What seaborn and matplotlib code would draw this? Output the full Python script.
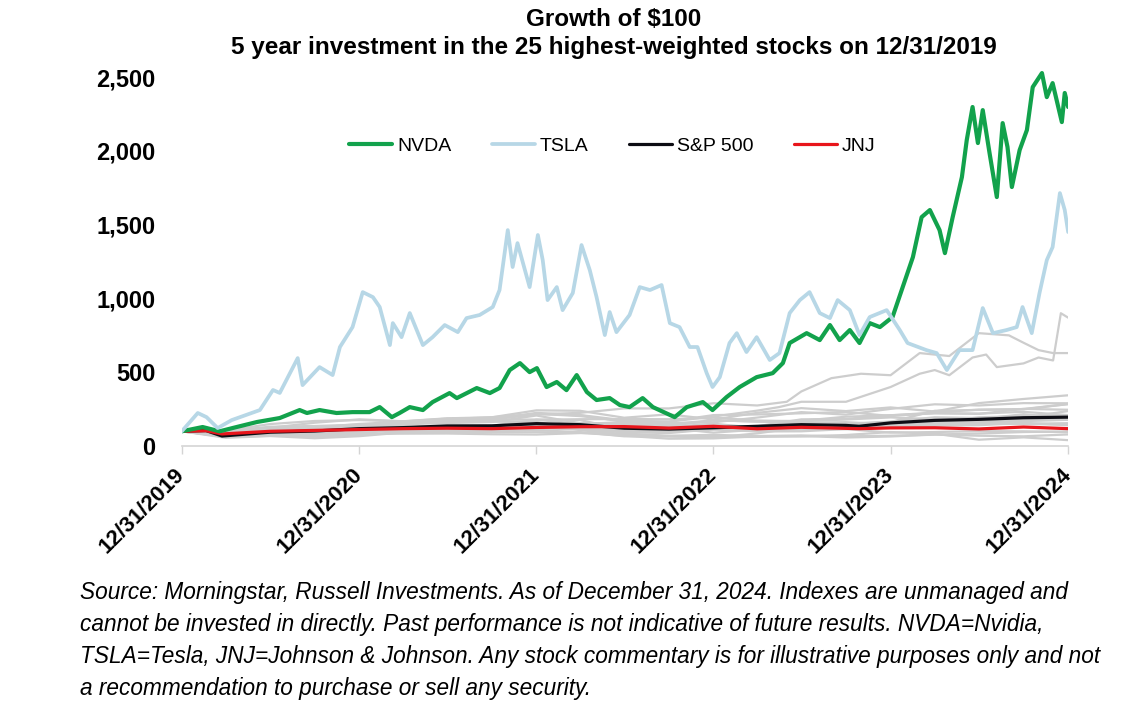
import pandas as pd
import matplotlib.pyplot as plt
from matplotlib.lines import Line2D
import seaborn as sns

# growth of $100
nvda_dates = ["2019-12-31", "2020-02-12", "2020-03-18", "2020-04-22", "2020-06-03", "2020-07-20",
              "2020-08-30", "2020-09-14", "2020-10-10", "2020-11-14", "2020-12-17", "2021-01-21",
              "2021-02-11", "2021-03-08", "2021-03-24", "2021-04-14", "2021-05-11", "2021-05-31",
              "2021-07-05", "2021-07-20", "2021-08-30", "2021-09-26", "2021-10-16", "2021-11-06",
              "2021-11-27", "2021-12-17", "2022-01-01", "2022-01-21", "2022-02-11", "2022-03-03",
              "2022-03-24", "2022-04-14", "2022-05-04", "2022-05-31", "2022-06-21", "2022-07-11",
              "2022-08-07", "2022-08-28", "2022-10-12", "2022-11-06", "2022-12-09", "2022-12-29",
              "2023-01-27", "2023-02-23", "2023-03-30", "2023-05-02", "2023-05-23", "2023-06-06",
              "2023-07-11", "2023-08-07", "2023-08-28", "2023-09-17", "2023-10-08", "2023-10-28",
              "2023-11-18", "2023-12-09", "2024-01-04", "2024-01-25", "2024-02-15", "2024-03-04",
              "2024-03-21", "2024-04-10", "2024-04-21", "2024-05-07", "2024-05-26", "2024-06-05",
              "2024-06-17", "2024-06-28", "2024-07-08", "2024-07-22", "2024-08-06", "2024-08-18",
              "2024-08-28", "2024-09-06", "2024-09-22", "2024-10-07", "2024-10-19", "2024-11-07",
              "2024-11-17", "2024-11-29", "2024-12-18", "2024-12-24", "2024-12-31"]
nvda_values = [100, 129, 100, 129, 163, 190,
               244, 224, 244, 224, 230, 230,
               264, 196, 224, 264, 244, 298,
               359, 325, 393, 359, 393, 515,
               562, 501, 528, 400, 434, 379,
               481, 366, 312, 325, 278, 264,
               325, 264, 196, 264, 298, 244,
               332, 400, 467, 494, 562, 698,
               765, 718, 820, 718, 786, 698,
               833, 806, 874, 1077, 1280, 1551,
               1599, 1463, 1307, 1551, 1822, 2073,
               2297, 2053, 2276, 1985, 1687, 2188,
               2026, 1755, 2005, 2141, 2432, 2527,
               2364, 2459, 2195, 2392, 2297]

tsla_dates = ["2019-12-31", "2020-02-02", "2020-02-20", "2020-03-14", "2020-04-12", "2020-06-09",
              "2020-07-06", "2020-07-20", "2020-08-26", "2020-09-05", "2020-10-10", "2020-11-06",
              "2020-11-21", "2020-12-17", "2021-01-07", "2021-01-28", "2021-02-11", "2021-03-04",
              "2021-03-10", "2021-03-28", "2021-04-14", "2021-05-11", "2021-05-31", "2021-06-25",
              "2021-07-22", "2021-08-09", "2021-09-05", "2021-10-02", "2021-10-16", "2021-11-02",
              "2021-11-12", "2021-11-22", "2021-12-17", "2022-01-03", "2022-01-13", "2022-01-23",
              "2022-02-11", "2022-02-23", "2022-03-16", "2022-04-03", "2022-04-20", "2022-05-04",
              "2022-05-21", "2022-05-31", "2022-06-14", "2022-07-11", "2022-08-01", "2022-08-22",
              "2022-09-15", "2022-10-02", "2022-10-22", "2022-11-12", "2022-11-28", "2022-12-17",
              "2022-12-29", "2023-01-13", "2023-02-02", "2023-02-17", "2023-03-09", "2023-03-30",
              "2023-04-26", "2023-05-16", "2023-06-06", "2023-06-27", "2023-07-17", "2023-08-07",
              "2023-08-28", "2023-09-13", "2023-10-08", "2023-10-28", "2023-11-18", "2023-12-23",
              "2024-01-19", "2024-02-04", "2024-03-14", "2024-04-04", "2024-04-25", "2024-05-21",
              "2024-06-17", "2024-07-08", "2024-07-29", "2024-08-26", "2024-09-16", "2024-09-28",
              "2024-10-17", "2024-11-02", "2024-11-17", "2024-11-29", "2024-12-14", "2024-12-24",
              "2024-12-31"]
tsla_values = [100, 224, 196, 122, 176, 244,
               380, 360, 596, 413, 535, 481,
               671, 806, 1043, 1009, 942, 684,
               833, 738, 901, 684, 738, 820,
               772, 867, 888, 942, 1057, 1463,
               1213, 1375, 1077, 1430, 1260, 989,
               1077, 921, 1037, 1362, 1192, 1009,
               752, 908, 772, 888, 1077, 1057,
               1091, 833, 806, 671, 671, 494,
               400, 467, 698, 765, 637, 738,
               583, 630, 901, 989, 1043, 901,
               867, 989, 921, 752, 874, 921,
               786, 698, 650, 630, 515, 650,
               650, 935, 765, 786, 806, 942,
               765, 1037, 1260, 1348, 1714, 1599,
               1450]

index_dates = ["2019-12-31", "2020-02-19", "2020-03-23", "2020-06-30", "2020-09-30", "2020-12-31",
               "2021-03-31", "2021-06-30", "2021-09-30", "2021-12-31", "2022-03-31", "2022-06-30",
               "2022-09-30", "2022-12-31", "2023-03-31", "2023-06-30", "2023-09-30", "2023-10-27",
               "2023-12-31", "2024-03-31", "2024-06-30", "2024-09-30", "2024-12-31"]
sp500_values = [100, 105, 68, 94, 102, 118,
                125, 136, 137, 152, 145, 121,
                115, 124, 134, 145, 140, 134,
                157, 174, 181, 192, 196]
jnj_values = [100, 104, 82, 100, 106, 112,
              118, 121, 118, 126, 131, 132,
              122, 134, 117, 127, 120, 118,
              123, 124, 116, 129, 118]

# the two grey names that break away from the pack in 2023-24
runner_a_dates = ["2019-12-31", "2020-03-31", "2020-06-30", "2020-09-30", "2020-12-31", "2021-03-31",
                  "2021-06-30", "2021-09-30", "2021-12-31", "2022-03-31", "2022-06-30", "2022-09-30",
                  "2022-12-31", "2023-03-31", "2023-05-31", "2023-06-30", "2023-08-31", "2023-10-31",
                  "2023-12-31", "2024-02-29", "2024-04-30", "2024-06-30", "2024-08-31", "2024-09-30",
                  "2024-10-31", "2024-11-30", "2024-12-31"]
runner_a_values = [100, 105, 125, 115, 130, 145,
                   180, 180, 215, 225, 255, 255,
                   290, 275, 300, 370, 460, 490,
                   480, 630, 610, 765, 750, 700,
                   650, 630, 630]
runner_b_dates = ["2019-12-31", "2020-03-31", "2020-06-30", "2020-09-30", "2020-12-31", "2021-03-31",
                  "2021-06-30", "2021-09-30", "2021-12-31", "2022-03-31", "2022-06-30", "2022-09-30",
                  "2022-12-31", "2023-03-31", "2023-05-15", "2023-06-30", "2023-09-30", "2023-12-31",
                  "2024-02-29", "2024-03-31", "2024-04-30", "2024-06-17", "2024-07-15", "2024-08-06",
                  "2024-09-30", "2024-10-31", "2024-11-30", "2024-12-16", "2024-12-31"]
runner_b_values = [100, 85, 110, 125, 150, 165,
                   175, 180, 225, 210, 175, 165,
                   200, 240, 264, 300, 300, 400,
                   490, 515, 480, 600, 620, 535,
                   560, 600, 580, 900, 870]

# rest of the 25, quarter ends
quarter_dates = pd.date_range("2019-12-31", "2024-12-31", freq="QE").strftime("%Y-%m-%d").tolist()
other_1 = [100, 88, 124, 158, 181, 168, 188, 195, 242, 239, 192, 215, 180, 225, 257, 237, 262, 234, 291, 319, 344]
other_2 = [100, 101, 131, 136, 145, 153, 177, 186, 219, 203, 170, 155, 161, 193, 230, 213, 252, 283, 275, 291, 290]
other_3 = [100, 105, 149, 170, 176, 167, 186, 178, 180, 176, 113, 122, 91, 111, 140, 151, 166, 195, 190, 194, 237]
other_4 = [100, 87, 106, 110, 131, 155, 183, 195, 217, 209, 164, 144, 126, 134, 181, 184, 208, 227, 247, 249, 284]
other_5 = [100, 81, 111, 128, 133, 143, 170, 165, 164, 108, 79, 66, 58, 86, 128, 147, 163, 239, 245, 251, 285]
other_6 = [100, 81, 79, 94, 102, 113, 123, 121, 132, 155, 120, 118, 136, 128, 137, 150, 155, 157, 195, 203, 200]
other_7 = [100, 65, 70, 73, 97, 117, 121, 126, 126, 111, 94, 88, 115, 110, 112, 124, 136, 158, 179, 190, 202]
other_8 = [100, 82, 99, 103, 113, 111, 120, 115, 120, 117, 105, 96, 113, 127, 127, 129, 143, 152, 160, 169, 178]
other_9 = [100, 82, 101, 115, 121, 121, 125, 118, 123, 122, 120, 97, 119, 123, 130, 136, 151, 156, 170, 179, 188]
other_10 = [100, 92, 98, 115, 115, 112, 113, 119, 140, 132, 126, 110, 134, 134, 152, 140, 148, 158, 163, 175, 178]
other_11 = [100, 56, 68, 53, 67, 92, 103, 101, 112, 149, 163, 166, 210, 214, 222, 231, 204, 223, 220, 232, 210]
other_12 = [100, 86, 101, 107, 121, 130, 141, 138, 177, 182, 183, 182, 193, 173, 168, 180, 194, 182, 182, 216, 189]
other_13 = [100, 87, 119, 132, 128, 149, 156, 163, 207, 155, 147, 149, 174, 167, 171, 199, 209, 222, 218, 252, 246]
other_14 = [100, 62, 70, 71, 90, 117, 123, 128, 139, 130, 100, 99, 113, 99, 100, 115, 136, 140, 149, 150, 145]
other_15 = [100, 92, 103, 90, 87, 115, 97, 94, 94, 90, 70, 50, 52, 66, 65, 75, 95, 84, 43, 59, 40]
other_16 = [100, 80, 82, 80, 83, 84, 85, 80, 78, 88, 85, 70, 76, 68, 72, 66, 70, 78, 85, 95, 99]
other_17 = [100, 67, 77, 86, 125, 128, 122, 117, 107, 95, 66, 66, 61, 62, 68, 58, 65, 78, 70, 66, 79]
other_18 = [100, 87, 87, 99, 103, 103, 115, 126, 178, 151, 150, 129, 152, 122, 122, 115, 91, 95, 101, 100, 94]
other_19 = [100, 82, 84, 94, 104, 105, 112, 109, 124, 134, 139, 123, 141, 132, 137, 136, 130, 140, 141, 158, 141]
other_20 = [100, 64, 79, 64, 77, 95, 97, 96, 116, 153, 136, 136, 175, 165, 158, 162, 146, 155, 158, 151, 155]
others = [other_1, other_2, other_3, other_4, other_5, other_6, other_7, other_8, other_9, other_10,
          other_11, other_12, other_13, other_14, other_15, other_16, other_17, other_18, other_19, other_20]

tick_dates = ["2019-12-31", "2020-12-31", "2021-12-31", "2022-12-31", "2023-12-31", "2024-12-31"]
tick_labels = ["12/31/2019", "12/31/2020", "12/31/2021", "12/31/2022", "12/31/2023", "12/31/2024"]

footnote = ["Source: Morningstar, Russell Investments. As of December 31, 2024. Indexes are unmanaged and",
            "cannot be invested in directly. Past performance is not indicative of future results. NVDA=Nvidia,",
            "TSLA=Tesla, JNJ=Johnson & Johnson. Any stock commentary is for illustrative purposes only and not",
            "a recommendation to purchase or sell any security."]

GREEN = "#12a24c"
LBLUE = "#b7d7e6"
BLACK = "#0d0d14"
RED = "#e8151b"
GREY = "#cdcdcd"

sns.set_theme(style="white")
plt.rcParams["font.family"] = ["Liberation Sans", "DejaVu Sans"]
plt.rcParams["text.color"] = "black"
plt.rcParams["xtick.labelcolor"] = "black"
plt.rcParams["ytick.labelcolor"] = "black"

fig = plt.figure(figsize=(11.22, 7.16), dpi=100)
ax = fig.add_axes([0.162, 0.377, 0.790, 0.536])

# grey pack
pack = pd.DataFrame({
    "date": pd.to_datetime(quarter_dates * len(others)),
    "value": [v for s in others for v in s],
    "stock": [i for i, s in enumerate(others) for _ in s],
})
sns.lineplot(data=pack, x="date", y="value", units="stock", estimator=None,
             color=GREY, lw=1.6, ax=ax, zorder=1)
for d, v in [(runner_a_dates, runner_a_values), (runner_b_dates, runner_b_values)]:
    sns.lineplot(x=pd.to_datetime(d), y=v, color=GREY, lw=1.6, ax=ax, zorder=1)

sns.lineplot(x=pd.to_datetime(index_dates), y=sp500_values, color=BLACK, lw=2.3, ax=ax, zorder=3)
sns.lineplot(x=pd.to_datetime(index_dates), y=jnj_values, color=RED, lw=2.3, ax=ax, zorder=4)
sns.lineplot(x=pd.to_datetime(nvda_dates), y=nvda_values, color=GREEN, lw=3.0, ax=ax, zorder=5)
sns.lineplot(x=pd.to_datetime(tsla_dates), y=tsla_values, color=LBLUE, lw=2.7, ax=ax, zorder=6)

ax.set_xlim(pd.Timestamp("2019-12-31"), pd.Timestamp("2024-12-31"))
ax.set_ylim(0, 2600)
ax.set_xlabel("")
ax.set_ylabel("")

ax.set_yticks([0, 500, 1000, 1500, 2000, 2500])
ax.set_yticklabels(["0", "500", "1,000", "1,500", "2,000", "2,500"], fontsize=17, fontweight="bold")
ax.tick_params(axis="y", length=0, pad=19)

ax.set_xticks(pd.to_datetime(tick_dates))
ax.set_xticklabels(tick_labels, rotation=45, ha="right", va="center", rotation_mode="anchor",
                   fontsize=16, fontweight="bold")
ax.tick_params(axis="x", length=6, width=1, color="#d4d4d4", pad=12, bottom=True)

for side in ["left", "top", "right"]:
    ax.spines[side].set_visible(False)
ax.spines["bottom"].set_color("#d4d4d4")
ax.spines["bottom"].set_linewidth(1.2)

handles = [Line2D([], [], color=GREEN, lw=3.0), Line2D([], [], color=LBLUE, lw=2.7),
           Line2D([], [], color=BLACK, lw=2.3), Line2D([], [], color=RED, lw=2.3)]
ax.legend(handles, ["NVDA", "TSLA", "S&P 500", "JNJ"], ncol=4, frameon=False,
          loc="center", bbox_to_anchor=(0.486, 0.781), fontsize=14,
          handlelength=2.2, handletextpad=0.25, columnspacing=2.1)

fig.text(0.547, 0.973, "Growth of $100", ha="center", va="center",
         fontsize=17.5, fontweight="bold")
fig.text(0.547, 0.933, "5 year investment in the 25 highest-weighted stocks on 12/31/2019",
         ha="center", va="center", fontsize=17.5, fontweight="bold")

for i, line in enumerate(footnote):
    fig.text(0.071, 0.172 - i * 0.0447, line, ha="left", va="center",
             fontsize=16.3, style="italic")

fig.savefig("out.png", dpi=100)
